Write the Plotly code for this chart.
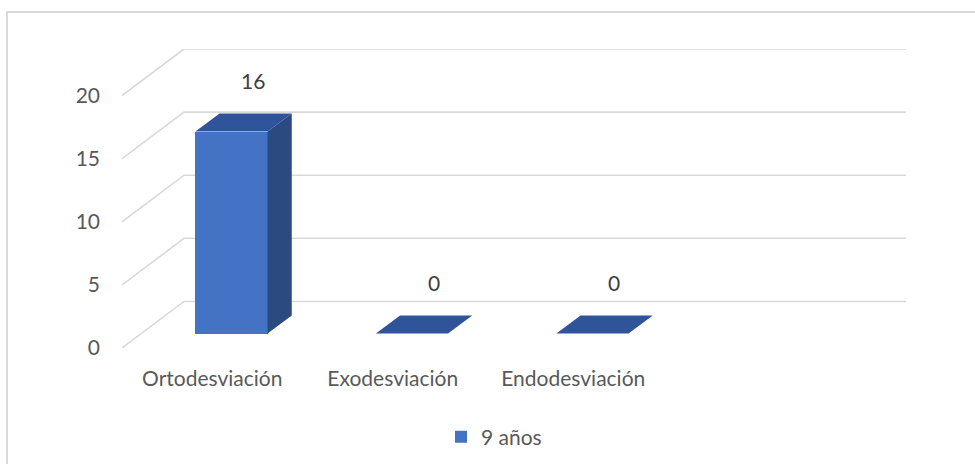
import plotly.graph_objects as go

# Data
categories = ["Ortodesviación", "Exodesviación", "Endodesviación"]
values = [16, 0, 0]
series_name = "9 años"
y_ticks = [0, 5, 10, 15, 20]

# Pseudo-3D geometry (in axis units)
N_SLOTS = 4            # category slots along the floor
DX = 0.3435            # depth shift along x (category units)
DY = 3.69              # depth shift along y (value units)
BAR_W = 0.4            # bar width (category units)
D0, D1 = 0.31, 0.70    # bar depth span (fraction of floor depth)

FRONT = "#4472C4"
TOP = "#30549A"
SIDE = "#2A4A80"
GRID = "#D9D9D9"
TXT = "#595959"
FONT = "Lato"
FS = 21

fig = go.Figure()

x_left = -0.5
x_right = N_SLOTS - 0.5

# Gridlines: front diagonal then back wall line, kept beneath the bars
for v in y_ticks:
    fig.add_shape(
        type="path", xref="x", yref="y", layer="below",
        path=f"M {x_left},{v} L {x_left + DX},{v + DY} L {x_right + DX},{v + DY}",
        line=dict(color=GRID, width=1.6))

# Front faces
fig.add_trace(go.Bar(
    x=[i + D0 * DX for i in range(len(values))],
    y=values,
    base=[D0 * DY] * len(values),
    width=BAR_W,
    marker=dict(color=FRONT, line=dict(width=0)),
    name=series_name, showlegend=True))

# Top and side faces of each bar
for i, v in enumerate(values):
    xl = i - BAR_W / 2
    xr = i + BAR_W / 2
    fig.add_trace(go.Scatter(
        x=[xl + D0 * DX, xr + D0 * DX, xr + D1 * DX, xl + D1 * DX, xl + D0 * DX],
        y=[v + D0 * DY, v + D0 * DY, v + D1 * DY, v + D1 * DY, v + D0 * DY],
        mode="lines", fill="toself", fillcolor=TOP,
        line=dict(width=0, color=TOP), hoverinfo="skip", showlegend=False))
    if v > 0:
        fig.add_trace(go.Scatter(
            x=[xr + D0 * DX, xr + D0 * DX, xr + D1 * DX, xr + D1 * DX, xr + D0 * DX],
            y=[D0 * DY, v + D0 * DY, v + D1 * DY, D1 * DY, D0 * DY],
            mode="lines", fill="toself", fillcolor=SIDE,
            line=dict(width=0, color=SIDE), hoverinfo="skip", showlegend=False))

# Value labels
for i, v in enumerate(values):
    fig.add_annotation(
        x=i + 0.66 * DX, y=v + 5.1, text=str(v), showarrow=False,
        font=dict(family=FONT, size=FS, color="#404040"),
        xanchor="center", yanchor="middle", yshift=1)

# Outer chart border (left and top edges visible)
W, H = 975, 464
L, R, T, B = 122, 69, 49, 116
pw, ph = W - L - R, H - T - B
fig.add_shape(type="rect", xref="paper", yref="paper",
              x0=(7 - L) / pw, x1=(W + 20 - L) / pw,
              y0=-(H + 20 - T - ph) / ph, y1=1 + (T - 12) / ph,
              line=dict(color="#D9D9D9", width=2), fillcolor="rgba(0,0,0,0)",
              layer="below")

fig.update_layout(
    width=W, height=H,
    margin=dict(l=L, r=R, t=T, b=B, autoexpand=False),
    paper_bgcolor="white", plot_bgcolor="white",
    font=dict(family=FONT, size=FS, color=TXT),
    bargap=0,
    xaxis=dict(range=[x_left, x_right + DX], tickvals=list(range(len(categories))),
               ticktext=categories, showgrid=False, zeroline=False, showline=False,
               ticks="", ticklabelstandoff=16, fixedrange=True, automargin=False,
               tickfont=dict(family=FONT, size=FS, color=TXT)),
    yaxis=dict(range=[0, y_ticks[-1] + DY], tickvals=y_ticks,
               showgrid=False, zeroline=False, showline=False,
               ticks="", ticklabelstandoff=21, fixedrange=True, automargin=False,
               tickfont=dict(family=FONT, size=FS, color=TXT)),
    legend=dict(orientation="h", x=(441 - L) / pw, xanchor="left",
                y=-(437 - T - ph) / ph, yanchor="middle",
                font=dict(family=FONT, size=FS, color=TXT),
                bgcolor="rgba(0,0,0,0)"),
    showlegend=True,
)

fig.write_html("out.html")
